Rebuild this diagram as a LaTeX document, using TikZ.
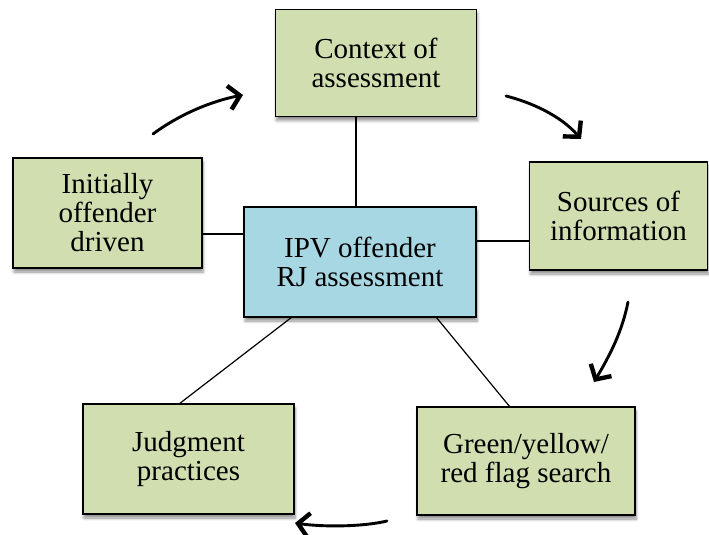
\documentclass[tikz,border=0pt]{standalone}
\usepackage{fontspec}
\setmainfont{Liberation Serif}
\usetikzlibrary{arrows.meta,shadows.blur}

\definecolor{boxgreen}{HTML}{D1DFB0}
\definecolor{boxblue}{HTML}{A8D7E4}

\tikzset{
  card/.style={draw=black, line width=1.3pt, fill=boxgreen, inner sep=0pt,
    align=center, font=\fontsize{29}{29}\selectfont,
    blur shadow={shadow xshift=1pt, shadow yshift=-4pt, shadow blur steps=6,
      shadow opacity=45, shadow blur radius=3pt}},
  hub/.style={card, fill=boxblue},
  link/.style={line width=1.2pt},
  flow/.style={line width=2.9pt, line cap=round,
    -{Straight Barb[length=11pt, width=24pt, line width=4.4pt]}}
}

\begin{document}
\begin{tikzpicture}[x=1pt, y=-1pt]
  \useasboundingbox (0,0) rectangle (709,535);

  % central topic
  \node[hub, minimum width=232pt, minimum height=110pt] (hub) at (360,262)
    {IPV offender\\RJ assessment};

  % surrounding aspects
  \node[card, minimum width=201pt, minimum height=107pt] (ctx) at (376,63)
    {Context of\\assessment};
  \node[card, minimum width=178pt, minimum height=108pt] (src) at (618.5,216)
    {Sources of\\information};
  \node[card, minimum width=218pt, minimum height=108pt] (flag) at (526,461)
    {Green/yellow/\\red flag search};
  \node[card, minimum width=211pt, minimum height=110pt] (judge) at (188.5,459)
    {Judgment\\practices};
  \node[card, minimum width=189pt, minimum height=110pt] (init) at (107.5,213)
    {Initially\\offender\\driven};

  % spokes from the hub
  \draw[link] (ctx.south -| 356,0) -- (hub.north -| 356,0);
  \draw[link] (init.east |- 0,234) -- (hub.west |- 0,234);
  \draw[link] (hub.east |- 0,241) -- (src.west |- 0,241);
  \coordinate (hjl) at (292,317);
  \coordinate (hjr) at (436,317);
  \coordinate (jt) at (179,404);
  \coordinate (ft) at (510,407);
  \draw[link] (hjl) -- (jt);
  \draw[link] (hjr) -- (ft);

  % cycle arrows
  \coordinate (a1s) at (153,134);  \coordinate (a1e) at (243,95);
  \coordinate (a2s) at (506,96);   \coordinate (a2e) at (581,139);
  \coordinate (a3s) at (628,302);  \coordinate (a3e) at (594,382);
  \coordinate (a4s) at (387,521);  \coordinate (a4e) at (295,523);
  \draw[flow] (a1s) .. controls (180,114) and (212,101) .. (a1e);
  \draw[flow] (a2s) .. controls (530,102) and (560,115) .. (a2e);
  \draw[flow] (a3s) .. controls (622,332) and (610,355) .. (a3e);
  \draw[flow] (a4s) .. controls (362,527) and (322,527) .. (a4e);
\end{tikzpicture}
\end{document}
